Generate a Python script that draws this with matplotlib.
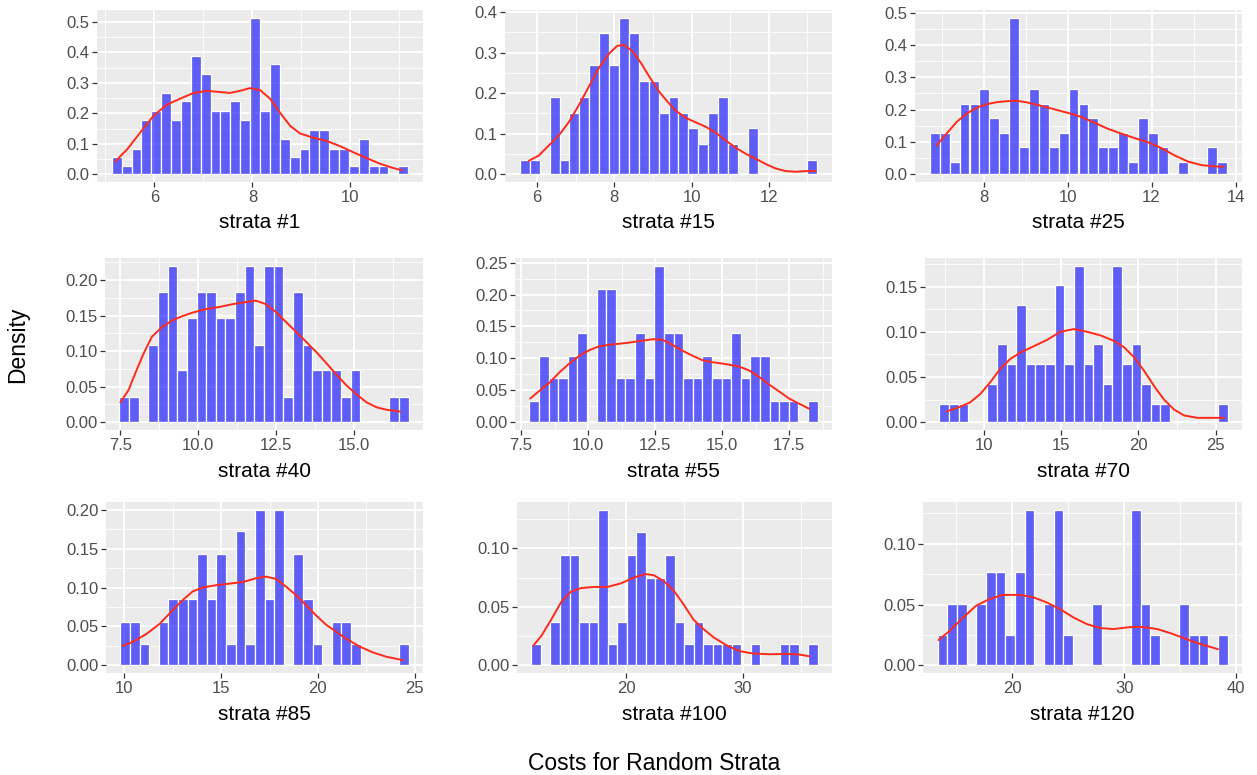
import numpy as np
import matplotlib
matplotlib.use("Agg")
import matplotlib.pyplot as plt

plt.rcParams['font.family'] = ['Liberation Sans', 'DejaVu Sans']

# ---------------- data ----------------
labels = ["strata #1", "strata #15", "strata #25", "strata #40", "strata #55",
          "strata #70", "strata #85", "strata #100", "strata #120"]

bin_lo = [5.13, 5.56, 6.72, 7.47, 7.81, 7.15, 9.79, 11.82, 13.32]
bin_hi = [11.18, 13.25, 13.80, 16.76, 18.56, 25.77, 24.69, 36.47, 39.22]

h1 = [0.056, 0.026, 0.084, 0.178, 0.207, 0.268, 0.178, 0.239, 0.390, 0.330,
      0.207, 0.207, 0.239, 0.178, 0.514, 0.207, 0.361, 0.117, 0.056, 0.084,
      0.146, 0.146, 0.084, 0.084, 0.026, 0.117, 0.026, 0.026, 0.0, 0.026]
h2 = [0.034, 0.034, 0.0, 0.190, 0.034, 0.152, 0.190, 0.270, 0.348, 0.270,
      0.386, 0.348, 0.230, 0.230, 0.152, 0.190, 0.152, 0.113, 0.074, 0.152,
      0.190, 0.074, 0.0, 0.113, 0.0, 0.0, 0.0, 0.0, 0.0, 0.034]
h3 = [0.128, 0.128, 0.039, 0.217, 0.217, 0.264, 0.173, 0.128, 0.484, 0.084,
      0.264, 0.217, 0.084, 0.128, 0.264, 0.217, 0.173, 0.084, 0.084, 0.128,
      0.039, 0.173, 0.128, 0.084, 0.0, 0.039, 0.0, 0.0, 0.084, 0.039]
h4 = [0.036, 0.036, 0.0, 0.109, 0.183, 0.220, 0.073, 0.146, 0.183, 0.183,
      0.146, 0.146, 0.183, 0.220, 0.109, 0.220, 0.220, 0.036, 0.183, 0.109,
      0.073, 0.073, 0.073, 0.036, 0.073, 0.0, 0.0, 0.0, 0.036, 0.036]
h5 = [0.033, 0.103, 0.069, 0.069, 0.103, 0.139, 0.0, 0.209, 0.209, 0.069,
      0.069, 0.139, 0.069, 0.245, 0.139, 0.139, 0.069, 0.069, 0.103, 0.069,
      0.069, 0.139, 0.069, 0.103, 0.103, 0.033, 0.033, 0.033, 0.0, 0.033]
h6 = [0.0205, 0.0205, 0.0205, 0.0, 0.0, 0.042, 0.086, 0.064, 0.130, 0.064,
      0.064, 0.064, 0.152, 0.064, 0.173, 0.064, 0.086, 0.042, 0.173, 0.064,
      0.086, 0.042, 0.0205, 0.0205, 0.0, 0.0, 0.0, 0.0, 0.0, 0.0205]
h7 = [0.0557, 0.0557, 0.0274, 0.0, 0.0557, 0.0848, 0.0848, 0.0848, 0.143, 0.0848,
      0.143, 0.0274, 0.173, 0.0274, 0.200, 0.0848, 0.200, 0.0, 0.143, 0.0848,
      0.0274, 0.0, 0.0557, 0.0557, 0.0274, 0.0, 0.0, 0.0, 0.0, 0.0274]
h8 = [0.018, 0.0, 0.037, 0.094, 0.094, 0.037, 0.037, 0.133, 0.018, 0.037,
      0.094, 0.114, 0.075, 0.075, 0.094, 0.037, 0.018, 0.037, 0.018, 0.018,
      0.018, 0.018, 0.0, 0.018, 0.0, 0.0, 0.018, 0.018, 0.0, 0.018]
h9 = [0.0248, 0.0504, 0.0504, 0.0, 0.0504, 0.0766, 0.0766, 0.0248, 0.0766, 0.128,
      0.0, 0.0504, 0.128, 0.0248, 0.0, 0.0, 0.0504, 0.0, 0.0, 0.0,
      0.128, 0.0504, 0.0248, 0.0, 0.0, 0.0504, 0.0248, 0.0248, 0.0, 0.0248]
heights = [h1, h2, h3, h4, h5, h6, h7, h8, h9]

# density curves
cx1 = [5.20, 5.44, 5.71, 5.98, 6.25, 6.52, 6.80, 7.07, 7.34, 7.54, 7.75, 7.95, 8.16,
       8.36, 8.56, 8.77, 8.97, 9.24, 9.52, 9.79, 10.06, 10.33, 10.61, 10.88, 11.05]
cy1 = [0.042, 0.081, 0.137, 0.192, 0.228, 0.248, 0.267, 0.274, 0.270, 0.267, 0.274, 0.283, 0.276,
       0.248, 0.203, 0.159, 0.134, 0.120, 0.109, 0.092, 0.072, 0.053, 0.034, 0.020, 0.013]
cx2 = [5.79, 6.05, 6.31, 6.57, 6.83, 7.09, 7.35, 7.61, 7.87, 8.08, 8.25, 8.47, 8.69, 8.90,
       9.16, 9.38, 9.59, 9.85, 10.11, 10.37, 10.63, 10.89, 11.15, 11.41, 11.67, 11.92,
       12.18, 12.44, 12.70, 12.96, 13.20]
cy2 = [0.033, 0.046, 0.071, 0.096, 0.129, 0.171, 0.217, 0.263, 0.298, 0.317, 0.319, 0.304, 0.275, 0.242,
       0.204, 0.179, 0.157, 0.139, 0.128, 0.117, 0.102, 0.083, 0.065, 0.050, 0.0375, 0.025,
       0.014, 0.0075, 0.006, 0.0075, 0.008]
cx3 = [6.88, 7.12, 7.36, 7.60, 7.84, 8.08, 8.32, 8.56, 8.80, 9.04, 9.36, 9.68, 10.0, 10.31,
       10.63, 10.95, 11.27, 11.59, 11.91, 12.23, 12.55, 12.87, 13.19, 13.51, 13.71]
cy3 = [0.089, 0.126, 0.162, 0.188, 0.206, 0.217, 0.223, 0.226, 0.227, 0.222, 0.212, 0.201, 0.190, 0.178,
       0.160, 0.141, 0.126, 0.112, 0.099, 0.081, 0.058, 0.039, 0.028, 0.024, 0.023]
cx4 = [7.50, 7.76, 7.97, 8.24, 8.51, 8.84, 9.16, 9.48, 9.81, 10.24, 10.67, 11.10, 11.53, 11.85,
       12.18, 12.50, 12.82, 13.15, 13.47, 13.79, 14.12, 14.44, 14.76, 15.09, 15.41, 15.73,
       16.06, 16.49]
cy4 = [0.028, 0.045, 0.068, 0.096, 0.120, 0.134, 0.143, 0.149, 0.154, 0.159, 0.162, 0.166, 0.169, 0.171,
       0.166, 0.155, 0.141, 0.127, 0.113, 0.099, 0.083, 0.067, 0.052, 0.039, 0.028, 0.021,
       0.0174, 0.015]
cx5 = [7.84, 8.18, 8.56, 8.93, 9.30, 9.67, 10.05, 10.42, 10.92, 11.41, 11.91, 12.41, 12.78,
       13.15, 13.52, 13.90, 14.27, 14.64, 15.14, 15.64, 16.01, 16.38, 16.75, 17.13, 17.50,
       17.87, 18.25]
cy5 = [0.037, 0.049, 0.062, 0.078, 0.092, 0.104, 0.113, 0.119, 0.122, 0.124, 0.127, 0.130, 0.129,
       0.121, 0.112, 0.104, 0.097, 0.094, 0.091, 0.087, 0.081, 0.071, 0.059, 0.048, 0.037,
       0.029, 0.021]
cx6 = [7.62, 8.49, 9.14, 9.78, 10.43, 11.08, 11.73, 12.38, 13.24, 14.10, 14.97, 15.83, 16.70,
       17.56, 18.42, 19.07, 19.72, 20.37, 21.02, 21.66, 22.31, 22.96, 23.82, 24.90, 25.55]
cy6 = [0.012, 0.017, 0.022, 0.031, 0.044, 0.059, 0.070, 0.077, 0.084, 0.091, 0.100, 0.103, 0.100,
       0.096, 0.090, 0.083, 0.072, 0.057, 0.040, 0.025, 0.014, 0.0074, 0.0048, 0.0048, 0.0048]
cx7 = [9.91, 10.43, 11.12, 11.81, 12.50, 13.02, 13.53, 14.05, 14.74, 15.43, 16.12, 16.81, 17.33,
       17.84, 18.36, 18.88, 19.40, 19.91, 20.43, 20.95, 21.47, 22.16, 22.84, 23.53, 24.40]
cy7 = [0.025, 0.030, 0.040, 0.053, 0.071, 0.084, 0.095, 0.100, 0.103, 0.105, 0.107, 0.112, 0.114,
       0.111, 0.101, 0.090, 0.077, 0.064, 0.052, 0.043, 0.034, 0.024, 0.0165, 0.011, 0.0065]
cx8 = [11.97, 12.68, 13.53, 14.39, 15.24, 16.10, 17.24, 18.38, 19.52, 20.66, 21.65, 22.36, 23.22,
       24.07, 24.93, 25.78, 26.64, 27.49, 28.63, 29.77, 30.91, 32.34, 34.05, 34.90, 35.75]
cy8 = [0.0166, 0.025, 0.039, 0.054, 0.063, 0.066, 0.067, 0.067, 0.070, 0.075, 0.078, 0.077, 0.072,
       0.064, 0.052, 0.039, 0.031, 0.024, 0.017, 0.012, 0.010, 0.0094, 0.0097, 0.0091, 0.0077]
cx9 = [13.41, 14.37, 15.57, 16.77, 17.96, 19.16, 20.66, 21.86, 23.05, 24.25, 25.45, 26.65, 27.84,
       29.04, 30.54, 31.74, 32.93, 34.13, 35.33, 36.53, 38.38]
cy9 = [0.0207, 0.028, 0.039, 0.049, 0.0545, 0.0579, 0.0579, 0.056, 0.0518, 0.0463, 0.0394, 0.0339, 0.0306,
       0.0298, 0.0314, 0.0314, 0.0298, 0.0264, 0.0223, 0.0182, 0.0132]
curve_x = [cx1, cx2, cx3, cx4, cx5, cx6, cx7, cx8, cx9]
curve_y = [cy1, cy2, cy3, cy4, cy5, cy6, cy7, cy8, cy9]

x_ticks = [[6, 8, 10], [6, 8, 10, 12], [8, 10, 12, 14],
           [7.5, 10.0, 12.5, 15.0], [7.5, 10.0, 12.5, 15.0, 17.5], [10, 15, 20, 25],
           [10, 15, 20, 25], [20, 30], [20, 30, 40]]
x_tick_labels = [["6", "8", "10"], ["6", "8", "10", "12"], ["8", "10", "12", "14"],
                 ["7.5", "10.0", "12.5", "15.0"], ["7.5", "10.0", "12.5", "15.0", "17.5"],
                 ["10", "15", "20", "25"], ["10", "15", "20", "25"], ["20", "30"],
                 ["20", "30", "40"]]
y_ticks = [[0.0, 0.1, 0.2, 0.3, 0.4, 0.5], [0.0, 0.1, 0.2, 0.3, 0.4],
           [0.0, 0.1, 0.2, 0.3, 0.4, 0.5], [0.0, 0.05, 0.10, 0.15, 0.20],
           [0.0, 0.05, 0.10, 0.15, 0.20, 0.25], [0.0, 0.05, 0.10, 0.15],
           [0.0, 0.05, 0.10, 0.15, 0.20], [0.0, 0.05, 0.10], [0.0, 0.05, 0.10]]
y_tick_labels = [["0.0", "0.1", "0.2", "0.3", "0.4", "0.5"], ["0.0", "0.1", "0.2", "0.3", "0.4"],
                 ["0.0", "0.1", "0.2", "0.3", "0.4", "0.5"], ["0.00", "0.05", "0.10", "0.15", "0.20"],
                 ["0.00", "0.05", "0.10", "0.15", "0.20", "0.25"], ["0.00", "0.05", "0.10", "0.15"],
                 ["0.00", "0.05", "0.10", "0.15", "0.20"], ["0.00", "0.05", "0.10"],
                 ["0.00", "0.05", "0.10"]]

x_title = "Costs for Random Strata"
y_title = "Density"

# ---------------- layout (pixels) ----------------
W, H = 1257, 775
rects = [(97, 10, 423, 182), (505, 10, 832, 182), (915, 10, 1242, 182),
         (105, 258, 423, 430), (515, 258, 832, 430), (925, 258, 1242, 430),
         (106, 502, 423, 673), (517, 502, 832, 673), (923, 502, 1242, 673)]

fig = plt.figure(figsize=(W / 100, H / 100), dpi=100)


def minor_ticks(major, lo, hi):
    step = major[1] - major[0]
    cands = np.arange(major[0] - step / 2, major[-1] + step, step)
    return [c for c in cands if lo <= c <= hi]


for i in range(9):
    L, T, R, B = rects[i]
    ax = fig.add_axes([L / W, 1 - B / H, (R - L) / W, (B - T) / H])
    ax.set_facecolor('#EBEBEB')
    for s in ax.spines.values():
        s.set_visible(False)

    edges = np.linspace(bin_lo[i], bin_hi[i], len(heights[i]) + 1)
    ax.bar(edges[:-1], heights[i], width=np.diff(edges), align='edge',
           color=(0.0, 0.0, 1.0, 0.6), edgecolor='white', linewidth=0.9, zorder=2)
    ax.plot(curve_x[i], curve_y[i], color='#FF2A1A', lw=1.4, zorder=3,
            solid_joinstyle='round', solid_capstyle='round')

    span = bin_hi[i] - bin_lo[i]
    xlo, xhi = bin_lo[i] - 0.05 * span, bin_hi[i] + 0.05 * span
    top = max(max(heights[i]), max(curve_y[i]))
    ylo, yhi = -0.05 * top, 1.05 * top
    ax.set_xlim(xlo, xhi)
    ax.set_ylim(ylo, yhi)

    ax.set_xticks(x_ticks[i])
    ax.set_xticklabels(x_tick_labels[i])
    ax.set_yticks(y_ticks[i])
    ax.set_yticklabels(y_tick_labels[i])
    ax.set_xticks(minor_ticks(x_ticks[i], xlo, xhi), minor=True)
    ax.set_yticks(minor_ticks(y_ticks[i], ylo, yhi), minor=True)

    ax.grid(True, which='major', color='white', lw=1.3, zorder=0)
    ax.grid(True, which='minor', color='white', lw=0.6, zorder=0)
    ax.set_axisbelow(True)
    ax.tick_params(axis='both', which='major', length=3.5, width=0.9,
                   color='#333333', labelcolor='#4D4D4D', labelsize=12, pad=2)
    ax.tick_params(axis='both', which='minor', length=0)

    fig.text((L + R) / 2 / W, 1 - (B + 41) / H, labels[i], ha='center', va='center',
             fontsize=15, color='black')

fig.text(654 / W, 1 - 764 / H, x_title, ha='center', va='center', fontsize=16.5, color='black')
fig.text(18 / W, 1 - 345 / H, y_title, ha='center', va='center', rotation=90,
         fontsize=16.5, color='black')

fig.savefig("out.png", dpi=100)
